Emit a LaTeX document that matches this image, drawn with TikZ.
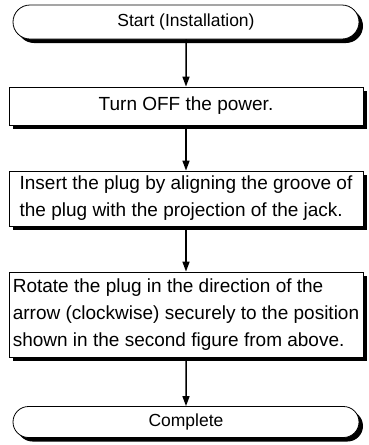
\documentclass[tikz,border=0pt]{standalone}
\usepackage{fontspec}
\setmainfont{Liberation Sans}
\usetikzlibrary{arrows.meta,shapes.misc,shadows}

\begin{document}
\begin{tikzpicture}[x=1pt, y=1pt, >={Triangle[width=7pt,length=10pt]},
    boxshadow/.style={drop shadow={shadow xshift=4pt, shadow yshift=-4pt, opacity=1, fill=black}},
    stepbox/.style={draw, line width=0.8pt, fill=white, boxshadow, minimum width=354pt, inner xsep=2pt, font=\fontsize{19}{27}\selectfont},
    termbox/.style={stepbox, rounded rectangle, minimum width=350pt, font=\fontsize{17.5}{21}\selectfont},
    flow/.style={->, line width=1.5pt}]
                % 画布范围
                \useasboundingbox (0,0) rectangle (368,-445);

                % 起止框
                \node[termbox, minimum height=34pt] (start) at (186,-22) {Start (Installation)};
                \node[termbox, minimum height=31pt] (done) at (186,-422) {Complete};

                % 步骤框
                \node[stepbox, minimum height=38pt] (power) at (186,-106) {Turn OFF the power.};
                \node[stepbox, minimum height=55pt, align=left] (insert) at (186,-198.5)
                    {Insert the plug by aligning the groove of\\the plug with the projection of the jack.};
                \node[stepbox, minimum height=85pt, align=left] (rotate) at (186,-314.5)
                    {Rotate the plug in the direction of the\\arrow (clockwise) securely to the position\\shown in the second figure from above.};

                % 流程箭头
                \draw[flow] (start) -- (power);
                \draw[flow] (power) -- (insert);
                \draw[flow] (insert) -- (rotate);
                \draw[flow] (rotate) -- (done);
\end{tikzpicture}
\end{document}
